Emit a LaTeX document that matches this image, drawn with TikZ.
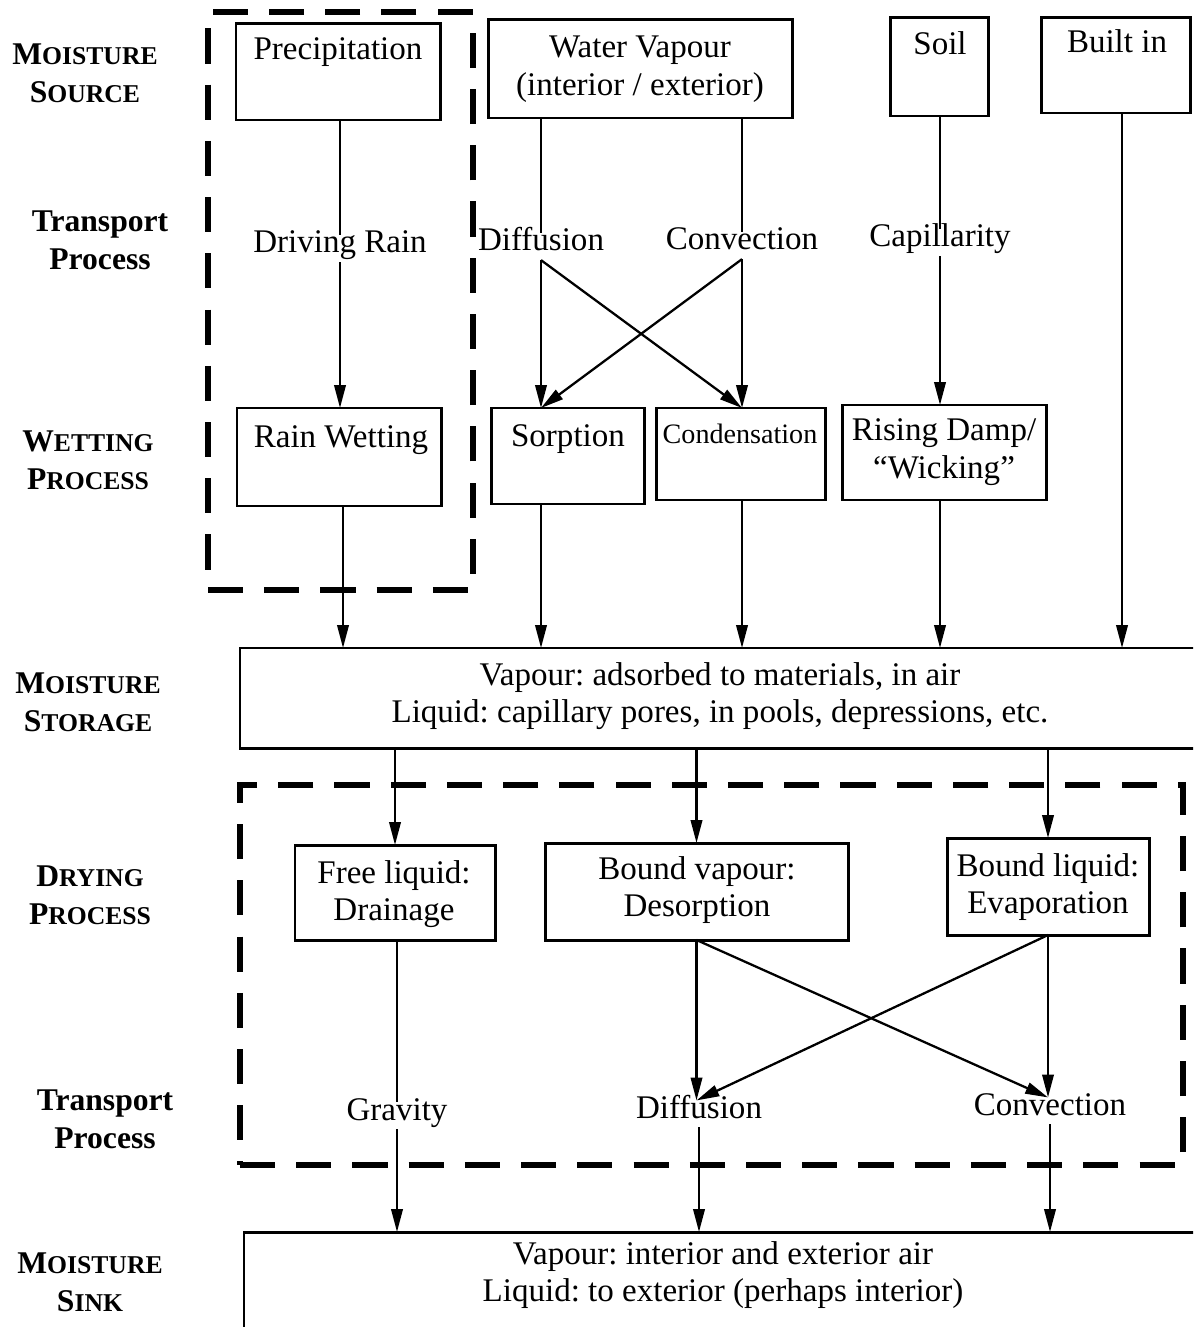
\documentclass[tikz,border=0pt]{standalone}
\usepackage{fontspec}
\setmainfont{Liberation Serif}
\usetikzlibrary{arrows.meta,fit}
\newcommand\fsc[2]{#1{\fontsize{14.6}{17}\selectfont #2}}
\frenchspacing
\begin{document}
\begin{tikzpicture}[x=0.02cm,y=-0.02cm,
  box/.style={draw, line width=1.7pt, inner sep=0pt, outer sep=0pt},
  dbox/.style={draw, line width=3pt, dash pattern=on 20pt off 12pt, inner sep=0pt, outer sep=0pt},
  txt/.style={font=\fontsize{18.8}{21.5}\selectfont, inner sep=0pt, align=center},
  lbl/.style={font=\fontsize{18.8}{21.5}\selectfont, inner sep=3pt, text height=0.68em, text depth=0.2em},
  side/.style={font=\bfseries\fontsize{18}{21.5}\selectfont, align=center, inner sep=0pt},
  ln/.style={line width=1.3pt},
  arr/.style={ln, -{Triangle[length=13pt,width=6.5pt]}},
]
\useasboundingbox (0,0) rectangle (1193,1327);
\clip (0,0) rectangle (1193,1327);
\fill[white] (0,0) rectangle (1193,1327);

% side labels
\node[side] (sSource) at (85,73) {\fsc{M}{OISTURE}\\\fsc{S}{OURCE}};
\node[side] (sTrans1) at (100,240) {Transport\\Process};
\node[side] (sWet) at (88,460) {\fsc{W}{ETTING}\\\fsc{P}{ROCESS}};
\node[side] (sStore) at (88,702) {\fsc{M}{OISTURE}\\\fsc{S}{TORAGE}};
\node[side] (sDry) at (90,895) {\fsc{D}{RYING}\\\fsc{P}{ROCESS}};
\node[side] (sTrans2) at (105,1119) {Transport\\Process};
\node[side] (sSink) at (90,1282) {\fsc{M}{OISTURE}\\\fsc{S}{INK}};

% dashed groups
\node[dbox, fit={(208,12)(473,590)}] (grpRain) {};
\node[dbox, fit={(240,785)(1183,1165)}] (grpDry) {};

% sources
\node[box, fit={(236,24)(440,120)}] (precip) {};
\node[txt, anchor=base] (precipT) at (338,60) {Precipitation};
\node[box, fit={(488,20)(792,118)}] (wv) {};
\node[txt] (wvT) at (640,69) {Water Vapour\\(interior / exterior)};
\node[box, fit={(890,18)(988,116)}] (soil) {};
\node[txt, anchor=base] (soilT) at (940,55) {Soil};
\node[box, fit={(1041,18)(1190,113)}] (built) {};
\node[txt, anchor=base] (builtT) at (1117,53) {Built in};

% transport labels (top)
\node[lbl, anchor=base] (drive) at (340,253) {Driving Rain};
\node[lbl, anchor=base] (diffA) at (541,251) {Diffusion};
\node[lbl, anchor=base] (convA) at (742,250) {Convection};
\node[lbl, anchor=base] (capil) at (940,247) {Capillarity};

% wetting boxes
\node[box, fit={(237,408)(441,506)}] (rainw) {};
\node[txt, anchor=base] (rainwT) at (341,447) {Rain Wetting};
\node[box, fit={(491,408)(644,504)}] (sorp) {};
\node[txt, anchor=base] (sorpT) at (568,446) {Sorption};
\node[box, fit={(656,408)(825,500)}] (cond) {};
\node[txt, anchor=base, font=\fontsize{16}{19}\selectfont] (condT) at (740,443) {Condensation};
\node[box, fit={(842,405)(1046,500)}] (rdamp) {};
\node[txt] (rdampT) at (944,452) {Rising Damp/\\``Wicking''};

% storage
\node[box, fit={(240,648)(1240,748)}] (store) {};
\node[txt] (storeT) at (720,696) {Vapour: adsorbed to materials, in air\\Liquid: capillary pores, in pools, depressions, etc.};

% drying boxes
\node[box, fit={(295,845)(495,940)}] (fliq) {};
\node[txt] (fliqT) at (394,894) {Free liquid:\\Drainage};
\node[box, fit={(545,843)(848,940)}] (bvap) {};
\node[txt] (bvapT) at (697,890) {Bound vapour:\\Desorption};
\node[box, fit={(947,838)(1149,935)}] (bliq) {};
\node[txt] (bliqT) at (1048,887) {Bound liquid:\\Evaporation};

% transport labels (bottom)
\node[lbl, anchor=base] (grav) at (397,1120) {Gravity};
\node[lbl, anchor=base] (diffB) at (699,1118) {Diffusion};
\node[lbl, anchor=base] (convB) at (1050,1115) {Convection};

% sink
\node[box, fit={(244,1232)(1240,1360)}] (sink) {};
\node[txt] (sinkT) at (723,1275) {Vapour: interior and exterior air\\Liquid: to exterior (perhaps interior)};

% connectors: sources -> transport
\draw[ln] (precip.south -| drive) -- (drive.north);
\draw[ln] (wv.south -| diffA) -- (diffA.north);
\draw[ln] (wv.south -| convA) -- (convA.north);
\draw[ln] (soil.south -| capil) -- (capil.north);

% transport -> wetting
\draw[arr] (drive.south) -- (drive.south |- rainw.north);
\draw[arr] (diffA.south) -- (diffA.south |- sorp.north);
\draw[arr] (diffA.south) -- (convA.south |- cond.north);
\draw[arr] (convA.south) -- (convA.south |- cond.north);
\draw[arr] (convA.south) -- (diffA.south |- sorp.north);
\draw[arr] (capil.south) -- (capil.south |- rdamp.north);

% wetting -> storage
\draw[arr] (rainw.south -| 343,0) -- (store.north -| 343,0);
\draw[arr] (sorp.south -| diffA) -- (store.north -| diffA);
\draw[arr] (cond.south -| convA) -- (store.north -| convA);
\draw[arr] (rdamp.south -| capil) -- (store.north -| capil);
\draw[arr] (built.south -| 1122,0) -- (store.north -| 1122,0);

% storage -> drying
\draw[arr] (store.south -| fliq) -- (fliq.north);
\draw[arr] (store.south -| bvap) -- (bvap.north);
\draw[arr] (store.south -| bliq) -- (bliq.north);

% drying -> transport
\draw[ln] (fliq.south -| grav) -- (grav.north);
\draw[arr] (bvap.south) -- (bvap.south |- diffB.north);
\draw[arr] (bvap.south) -- (bliq.south |- convB.north);
\draw[arr] (bliq.south) -- (bliq.south |- convB.north);
\draw[arr] (bliq.south) -- (bvap.south |- diffB.north);

% transport -> sink
\draw[arr] (grav.south) -- (grav.south |- sink.north);
\draw[arr] (diffB.south) -- (diffB.south |- sink.north);
\draw[arr] (convB.south) -- (convB.south |- sink.north);
\end{tikzpicture}
\end{document}
